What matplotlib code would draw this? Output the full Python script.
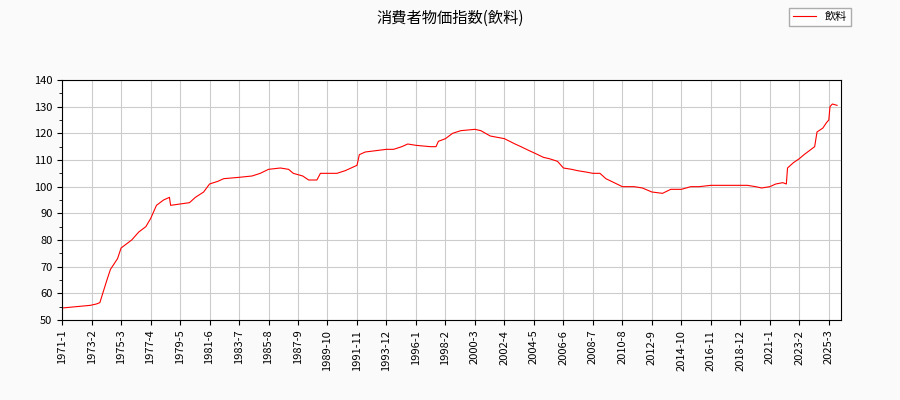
import matplotlib
matplotlib.use("Agg")
import matplotlib.pyplot as plt
from matplotlib.ticker import MultipleLocator

plt.rcParams['font.family'] = ['Noto Sans CJK JP', 'DejaVu Sans']

dates = ["1971-1","1972-1","1973-1","1973-6","1973-9","1974-3","1974-6","1974-12","1975-3","1975-12",
"1976-6","1976-12","1977-4","1977-9","1978-3","1978-8","1978-9","1979-5","1980-1","1980-6","1981-1",
"1981-6","1982-1","1982-6","1983-7","1984-6","1985-1","1985-8","1986-6","1987-1","1987-5","1988-1",
"1988-6","1989-1","1989-4","1990-6","1991-1","1991-6","1991-11","1992-1","1992-6","1993-12","1994-6",
"1995-1","1995-6","1996-1","1997-1","1997-6","1997-8","1998-2","1998-8","1999-3","2000-3","2000-8",
"2001-4","2002-4","2003-1","2003-6","2004-1","2004-6","2005-1","2005-6","2006-1","2006-6","2007-1",
"2007-6","2008-1","2008-7","2009-1","2009-6","2010-1","2010-8","2011-1","2011-6","2012-1","2012-9",
"2013-6","2014-1","2014-10","2015-6","2016-1","2016-11","2017-6","2018-1","2018-12","2019-6","2020-1",
"2020-6","2021-1","2021-6","2021-12","2022-3","2022-4","2022-9","2023-2","2023-6","2023-12","2024-3",
"2024-5","2024-10","2025-1","2025-3","2025-4","2025-6","2025-10"]
values = [54.5,55,55.5,56,56.5,65,69,73,77,80,83,85,88,93,95,96,93,93.5,94,96,98,101,102,103,103.5,104,
105,106.5,107,106.5,105,104,102.5,102.5,105,105,106,107,108,112,113,114,114,115,116,115.5,115,115,117,
118,120,121,121.5,121,119,118,116,115,113.5,112.5,111,110.5,109.5,107,106.5,106,105.5,105,105,103,101.5,
100,100,100,99.5,98,97.5,99,99,100,100,100.5,100.5,100.5,100.5,100.5,100,99.5,100,101,101.5,101,107,109,
110.5,112,114,115,120.5,122,124,125,130,131,130.5]

def idx(d):
    y, m = d.split("-")
    return (int(y) - 1971) * 12 + int(m) - 1

x = [idx(d) for d in dates]
tick_pos = list(range(0, 651, 25))
tick_lab = [f"{1971 + p // 12}-{p % 12 + 1}" for p in tick_pos]

fig = plt.figure(figsize=(9, 4), dpi=100, facecolor="#fafafa")
ax = fig.add_axes([0.069, 0.2, 0.865, 0.6])
ax.set_facecolor("white")
ax.plot(x, values, color="red", lw=0.8, label="飲料")
ax.set_xlim(0, 660)
ax.set_ylim(50, 140)
ax.set_xticks(tick_pos)
ax.set_xticklabels(tick_lab, rotation=90, fontsize=8)
ax.yaxis.set_major_locator(MultipleLocator(10))
ax.yaxis.set_minor_locator(MultipleLocator(5))
ax.tick_params(axis='y', labelsize=8)
ax.grid(True, color="#cccccc", lw=0.8)
fig.suptitle("消費者物価指数(飲料)", y=0.975, fontsize=11)
fig.legend(loc="upper right", bbox_to_anchor=(0.952, 0.995), fontsize=8, fancybox=False, edgecolor="#999999")
fig.savefig("out.png", facecolor=fig.get_facecolor())
